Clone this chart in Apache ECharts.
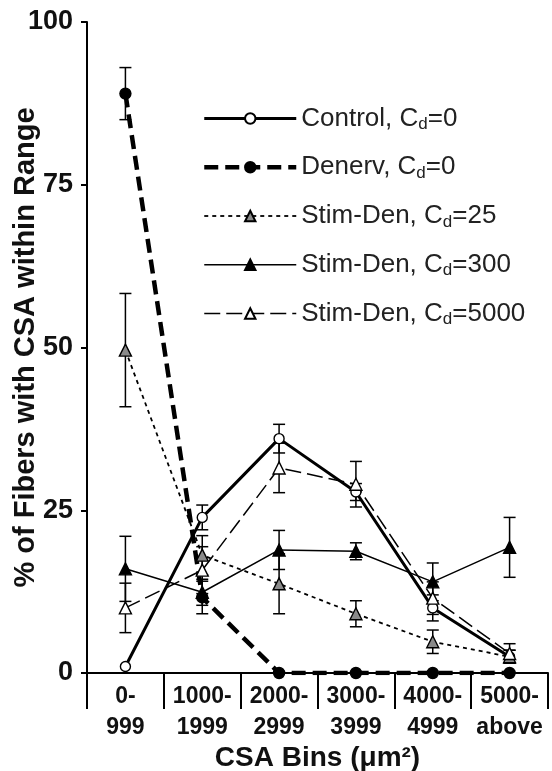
<!DOCTYPE html>
<html>
<head>
<meta charset="utf-8">
<script src="https://cdn.jsdelivr.net/npm/echarts@6/dist/echarts.min.js"></script>
<style>
  html, body { margin: 0; padding: 0; background: #fff; }
  #chart { width: 552px; height: 771px; }
</style>
</head>
<body>
<div id="chart"></div>
<script>
// CSA bins
const categories = ['0-\n999', '1000-\n1999', '2000-\n2999', '3000-\n3999', '4000-\n4999', '5000-\nabove'];

// % of fibers per bin (mean) and error (+/-)
const control = [1, 23.9, 36, 27.8, 10, 2.5];
const controlErr = [0, 1.9, 2.2, 1.3, 2, 1];
const denerv = [89, 11.6, 0, 0, 0, 0];
const denervErr = [4, 2.5, 0, 0, 0, 0];
const stim25 = [49.6, 18.1, 13.7, 9.1, 4.8, 2.5];
const stim25Err = [8.7, 3, 4.6, 2, 1.8, 1];
const stim300 = [16, 12.4, 18.9, 18.7, 14, 19.3];
const stim300Err = [5, 2, 3, 1.3, 2.9, 4.6];
const stim5000 = [10, 15.8, 31.5, 29, 11.5, 3];
const stim5000Err = [3.8, 3.6, 3.8, 3.5, 2.5, 1.5];

const yTicks = { min: 0, max: 100, interval: 25 };

const font = 'Liberation Sans, Arial, sans-serif';

function errData(vals, errs) {
  const out = [];
  vals.forEach(function (v, i) {
    if (errs[i] > 0) out.push([i, v - errs[i], v + errs[i]]);
  });
  return out;
}

function errRender(params, api) {
  const x = api.value(0);
  const lo = api.coord([x, api.value(1)]);
  const hi = api.coord([x, api.value(2)]);
  const w = 6;
  const st = { stroke: '#000', lineWidth: 1.5 };
  return {
    type: 'group',
    children: [
      { type: 'line', shape: { x1: hi[0], y1: hi[1], x2: lo[0], y2: lo[1] }, style: st },
      { type: 'line', shape: { x1: hi[0] - w, y1: hi[1], x2: hi[0] + w, y2: hi[1] }, style: st },
      { type: 'line', shape: { x1: lo[0] - w, y1: lo[1], x2: lo[0] + w, y2: lo[1] }, style: st }
    ]
  };
}

function errSeries(vals, errs) {
  return {
    type: 'custom',
    renderItem: errRender,
    data: errData(vals, errs),
    encode: { x: 0, y: [1, 2] },
    z: 3,
    silent: true
  };
}

function lineSeries(name, data, lineStyle, symbol, size, fill, border) {
  return {
    name: name,
    type: 'line',
    data: data,
    symbol: symbol,
    symbolSize: size,
    showAllSymbol: true,
    lineStyle: Object.assign({ color: '#000' }, lineStyle),
    itemStyle: { color: fill, borderColor: border, borderWidth: 1.4 },
    z: 4,
    emphasis: { disabled: true }
  };
}

const chart = echarts.init(document.getElementById('chart'));

chart.setOption({
  animation: false,
  grid: { left: 87, right: 4, top: 22, bottom: 98, containLabel: false, outerBoundsMode: 'none' },
  legend: {
    orient: 'vertical',
    left: 202,
    top: 104,
    padding: 0,
    itemWidth: 92,
    itemHeight: 13,
    itemGap: 19.75,
    selectedMode: false,
    lineStyle: { width: 'inherit' },
    formatter: function (name) { return name.replace('Cd', 'C{sub|d}'); },
    textStyle: {
      fontFamily: font,
      fontSize: 26,
      lineHeight: 28,
      color: '#222',
      rich: {
        sub: { fontFamily: font, fontSize: 17, lineHeight: 28, color: '#222', padding: [12, 0, 0, 0] }
      }
    }
  },
  xAxis: {
    type: 'category',
    data: categories,
    name: 'CSA Bins (\u03bcm\u00b2)',
    nameLocation: 'middle',
    nameGap: 71,
    nameMoveOverlap: false,
    nameTextStyle: { fontFamily: font, fontSize: 28, fontWeight: 'bold', color: '#111' },
    axisLine: { show: true, lineStyle: { color: '#000', width: 2 } },
    axisTick: { show: true, interval: 0, length: 36, lineStyle: { color: '#000', width: 2 } },
    axisLabel: { interval: 0, fontFamily: font, fontSize: 23, fontWeight: 'bold', color: '#111', lineHeight: 31, margin: 8 }
  },
  yAxis: {
    type: 'value',
    min: yTicks.min,
    max: yTicks.max,
    interval: yTicks.interval,
    name: '% of Fibers with CSA within Range',
    nameLocation: 'middle',
    nameRotate: 90,
    nameGap: 47,
    nameMoveOverlap: false,
    nameTextStyle: { fontFamily: font, fontSize: 29, fontWeight: 'bold', color: '#111' },
    axisLine: { show: true, lineStyle: { color: '#000', width: 2 } },
    axisTick: { show: true, length: 6, lineStyle: { color: '#000', width: 2 } },
    axisLabel: { fontFamily: font, fontSize: 27, fontWeight: 'bold', color: '#111', margin: 14 },
    splitLine: { show: false }
  },
  series: [
    lineSeries('Control, Cd=0', control, { width: 3 }, 'circle', 10, '#fff', '#000'),
    lineSeries('Denerv, Cd=0', denerv, { width: 4.5, type: [14, 7] }, 'circle', 11, '#000', '#000'),
    lineSeries('Stim-Den, Cd=25', stim25, { width: 1.8, type: [4, 4] }, 'triangle', 12, '#8a8a8a', '#000'),
    lineSeries('Stim-Den, Cd=300', stim300, { width: 1.5 }, 'triangle', 12, '#000', '#000'),
    lineSeries('Stim-Den, Cd=5000', stim5000, { width: 1.5, type: [16, 6] }, 'triangle', 12, '#fff', '#000'),
    errSeries(control, controlErr),
    errSeries(denerv, denervErr),
    errSeries(stim25, stim25Err),
    errSeries(stim300, stim300Err),
    errSeries(stim5000, stim5000Err)
  ]
});
</script>
</body>
</html>
